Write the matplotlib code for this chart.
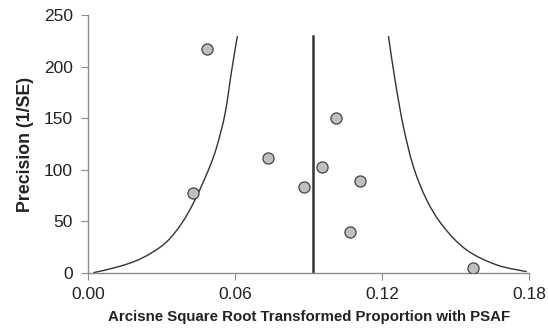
import matplotlib
matplotlib.use("Agg")
import matplotlib.pyplot as plt
from matplotlib.path import Path
from matplotlib.patches import PathPatch

# study estimates (arcsine sqrt transformed proportion) and precision (1/SE)
effect = [0.0484, 0.0430, 0.0733, 0.0880, 0.0956, 0.1011, 0.1107, 0.1070, 0.1571]
precision = [217.2, 77.4, 111.9, 83.5, 103.2, 150.5, 89.0, 39.8, 4.5]

# pooled estimate
pooled = 0.0916
pooled_top = 230

# funnel limits
left_x = [0.0022, 0.0124, 0.0219, 0.0314, 0.0382, 0.0436, 0.0491, 0.0525, 0.0559, 0.0586, 0.0609]
left_y = [0.3, 6.1, 14.3, 28.8, 48.2, 70.9, 100.0, 122.6, 155.0, 197.0, 230.0]
right_x = [0.1789, 0.1667, 0.1544, 0.1449, 0.1381, 0.1327, 0.1286, 0.1252, 0.1225]
right_y = [1.3, 7.8, 22.3, 45.0, 70.9, 103.0, 142.0, 187.0, 230.0]

xticks = [0.00, 0.06, 0.12, 0.18]
yticks = [0, 50, 100, 150, 200, 250]


def smooth_path(xs, ys):
    # excel-style smoothed line: catmull-rom segments as cubic beziers
    pts = list(zip(xs, ys))
    verts = [pts[0]]
    codes = [Path.MOVETO]
    n = len(pts)
    for i in range(n - 1):
        p0 = pts[max(i - 1, 0)]
        p1 = pts[i]
        p2 = pts[i + 1]
        p3 = pts[min(i + 2, n - 1)]
        c1 = (p1[0] + (p2[0] - p0[0]) / 6, p1[1] + (p2[1] - p0[1]) / 6)
        c2 = (p2[0] - (p3[0] - p1[0]) / 6, p2[1] - (p3[1] - p1[1]) / 6)
        verts += [c1, c2, p2]
        codes += [Path.CURVE4] * 3
    return Path(verts, codes)


plt.rcParams["font.family"] = ["Liberation Sans", "DejaVu Sans"]

fig = plt.figure(figsize=(5.48, 3.33), dpi=100)
ax = fig.add_axes([0.1606, 0.1802, 0.8056, 0.7733])

for xs, ys in [(left_x, left_y), (right_x, right_y)]:
    ax.add_patch(PathPatch(smooth_path(xs, ys), fill=False, edgecolor="#333333", lw=1.0))
ax.plot([pooled, pooled], [0, pooled_top], color="#333333", lw=1.8)
ax.plot(effect, precision, "o", ms=8, mfc="#bfbfbf", mec="#444444", mew=0.9, zorder=3)

ax.set_xlim(0, 0.18)
ax.set_ylim(0, 250)
ax.set_xticks(xticks)
ax.set_xticklabels(["%.2f" % t for t in xticks])
ax.set_yticks(yticks)

for s in ["top", "right"]:
    ax.spines[s].set_visible(False)
for s in ["left", "bottom"]:
    ax.spines[s].set_color("#8c8c8c")
    ax.spines[s].set_linewidth(1.0)
ax.tick_params(axis="both", colors="#8c8c8c", labelcolor="#222222", labelsize=12.5, length=5)
ax.tick_params(axis="y", pad=6)
ax.tick_params(axis="x", pad=5)

ax.set_xlabel("Arcisne Square Root Transformed Proportion with PSAF",
              fontsize=10.8, fontweight="bold", color="#222222", labelpad=6)
ax.set_ylabel("Precision (1/SE)", fontsize=12.8, fontweight="bold", color="#222222", labelpad=7)

fig.savefig("out.png", dpi=100)
